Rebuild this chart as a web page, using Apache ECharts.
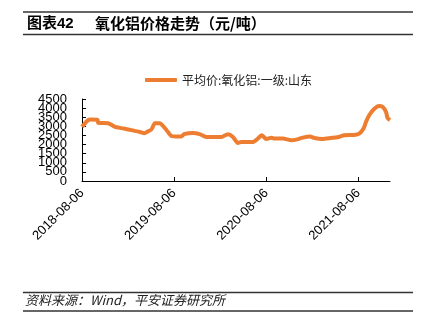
<!DOCTYPE html>
<html>
<head>
<meta charset="utf-8">
<script src="https://cdn.jsdelivr.net/npm/echarts@6/dist/echarts.min.js"></script>
<style>
  html, body { margin: 0; padding: 0; background: #fff; }
  #chart { width: 433px; height: 334px; }
</style>
</head>
<body>
<div id="chart"></div>
<script>
// Shandong grade-1 alumina average price, yuan/ton
const dates = [
  '2018-08-06','2018-08-30','2018-09-11','2018-10-07','2018-10-09','2018-11-18',
  '2018-12-15','2019-01-10','2019-02-05','2019-03-04','2019-03-24','2019-04-10',
  '2019-04-19','2019-05-09','2019-05-22','2019-06-11','2019-06-24','2019-07-07',
  '2019-07-27','2019-08-22','2019-09-05','2019-09-15','2019-10-20','2019-11-16',
  '2019-12-12','2020-02-10','2020-03-07','2020-03-27','2020-04-15','2020-04-29',
  '2020-06-14','2020-07-01','2020-07-19','2020-08-06','2020-08-26','2020-09-08',
  '2020-10-11','2020-11-13','2020-12-03','2020-12-29','2021-01-27','2021-02-13',
  '2021-03-18','2021-04-20','2021-05-16','2021-06-12','2021-07-21','2021-08-10',
  '2021-08-27','2021-09-06','2021-09-19','2021-10-08','2021-10-28','2021-11-10',
  '2021-11-24','2021-11-30','2021-12-10'
];
const prices = [
  2970, 3340, 3380, 3360, 3190, 3170,
  2970, 2900, 2830, 2750, 2690, 2620,
  2680, 2840, 3170, 3170, 3010, 2800,
  2470, 2440, 2450, 2570, 2640, 2570,
  2420, 2420, 2570, 2420, 2090, 2140,
  2140, 2290, 2510, 2310, 2380, 2330,
  2330, 2240, 2270, 2380, 2440, 2360,
  2310, 2360, 2400, 2510, 2530, 2600,
  2880, 3250, 3620, 3950, 4110, 4070,
  3800, 3470, 3340
];
const tickDates = ['2018-08-06', '2019-08-06', '2020-08-06', '2021-08-06'];
const yTicks = [0, 500, 1000, 1500, 2000, 2500, 3000, 3500, 4000, 4500];
const seriesName = '平均价:氧化铝:一级:山东';

// Dates are placed on a numeric axis as day counts (UTC based)
const DAY = 86400000;
function toDay(s) {
  const p = s.split('-').map(Number);
  return Date.UTC(p[0], p[1] - 1, p[2]) / DAY;
}
function pad(n) { return (n < 10 ? '0' : '') + n; }
function fmt(day) {
  const d = new Date(Math.round(day) * DAY);
  return d.getUTCFullYear() + '-' + pad(d.getUTCMonth() + 1) + '-' + pad(d.getUTCDate());
}

const tickDays = tickDates.map(toDay);
const seriesData = dates.map((d, i) => [toDay(d), prices[i]]);
// The tick labels sit closer than their own height, so they are split across
// two stacked axes that share one scale (even and odd steps).
const yEven = yTicks.filter((v, i) => i % 2 === 0);
const yOdd = yTicks.filter((v, i) => i % 2 === 1);

const yLabelBase = {
  interval: 0,
  color: '#000',
  fontSize: 13,
  margin: 15,
  fontFamily: 'Liberation Sans, Arial, sans-serif',
  formatter: (v) => String(v),
  showMinLabel: true,
  showMaxLabel: true,
  hideOverlap: false
};

const chart = echarts.init(document.getElementById('chart'), null, { renderer: 'canvas' });
const ruleColor = '#333333';
chart.setOption({
  animation: false,
  backgroundColor: '#ffffff',
  textStyle: { fontFamily: 'Liberation Sans, Arial, Noto Sans CJK SC, sans-serif' },
  graphic: [
    { type: 'line', shape: { x1: 23, y1: 12, x2: 413, y2: 12 }, style: { stroke: ruleColor, lineWidth: 1.5 } },
    { type: 'line', shape: { x1: 23, y1: 34.5, x2: 413, y2: 34.5 }, style: { stroke: ruleColor, lineWidth: 1.5 } },
    { type: 'text', left: 27, top: 16, style: { text: '图表42', font: 'bold 15px "Liberation Sans", "Noto Sans CJK SC", sans-serif', fill: '#000' } },
    { type: 'text', left: 95, top: 16, style: { text: '氧化铝价格走势（元/吨）', font: 'bold 15px "Noto Sans CJK SC", sans-serif', fill: '#000' } },
    { type: 'line', shape: { x1: 23, y1: 292.5, x2: 413, y2: 292.5 }, style: { stroke: ruleColor, lineWidth: 1.5 } },
    { type: 'line', shape: { x1: 23, y1: 311, x2: 413, y2: 311 }, style: { stroke: ruleColor, lineWidth: 1.5 } },
    { type: 'text', left: 25, top: 294, style: { text: '资料来源：Wind，平安证券研究所', font: 'italic 13px "Noto Sans CJK SC", "Liberation Sans", sans-serif', fill: '#222' } }
  ],
  legend: {
    data: [seriesName],
    left: 140,
    top: 69,
    icon: 'roundRect',
    itemWidth: 32,
    itemHeight: 4,
    itemGap: 10,
    textStyle: { fontSize: 12, color: '#222', fontFamily: 'Noto Sans CJK SC, sans-serif' }
  },
  grid: { left: 82, right: 43, top: 99, bottom: 153, containLabel: false },
  xAxis: {
    type: 'value',
    min: toDay(dates[0]),
    max: toDay(dates[dates.length - 1]),
    axisLine: { lineStyle: { color: '#000', width: 1 } },
    axisTick: { show: true, inside: true, length: 4, customValues: tickDays, lineStyle: { color: '#000' } },
    axisLabel: {
      customValues: tickDays,
      formatter: (v) => fmt(v),
      rotate: 45,
      margin: 10,
      color: '#000',
      fontSize: 13,
      fontFamily: 'Liberation Sans, Arial, sans-serif',
      showMinLabel: true,
      showMaxLabel: true,
      hideOverlap: false
    },
    splitLine: { show: false }
  },
  yAxis: [{
    type: 'value',
    position: 'left',
    min: 0,
    max: 4500,
    interval: 500,
    axisLine: { show: true, onZero: false, lineStyle: { color: '#000', width: 1 } },
    axisTick: { show: true, inside: true, length: 4, customValues: yTicks, lineStyle: { color: '#000' } },
    axisLabel: Object.assign({ customValues: yEven }, yLabelBase),
    splitLine: { show: false }
  }, {
    type: 'value',
    position: 'left',
    offset: 0,
    min: 0,
    max: 4500,
    interval: 500,
    axisLine: { show: false },
    axisTick: { show: false },
    axisLabel: Object.assign({ customValues: yOdd }, yLabelBase),
    splitLine: { show: false }
  }],
  series: [{
    name: seriesName,
    type: 'line',
    yAxisIndex: 0,
    data: seriesData,
    showSymbol: false,
    smooth: 0.2,
    lineStyle: { color: '#ED7D31', width: 4 },
    itemStyle: { color: '#ED7D31' }
  }]
});
</script>
</body>
</html>
